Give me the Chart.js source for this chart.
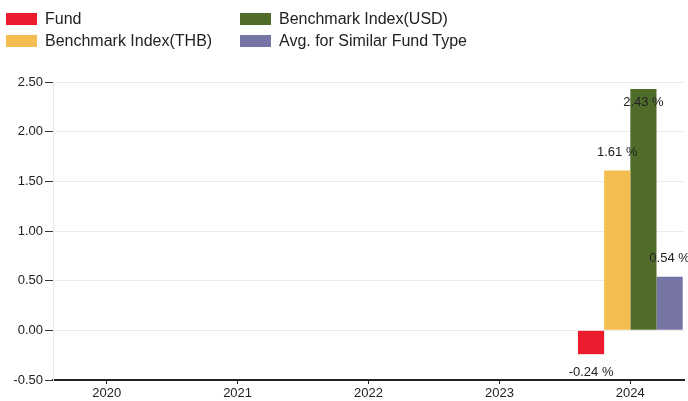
<!DOCTYPE html>
<html>
<head>
<meta charset="utf-8">
<script src="https://cdn.jsdelivr.net/npm/chart.js@4"></script>
<style>
    body { margin: 0; background: #fff; font-family: 'Liberation Sans', Arial, sans-serif; }
    #wrap { position: relative; width: 688px; height: 401px; overflow: hidden; }
    #legend { position: absolute; left: 6px; top: 8px; display: grid; grid-template-rows: 22px 22px;
              grid-auto-flow: column; grid-template-columns: 234px 240px; font-size: 16px; color: #222; }
    .item { display: flex; align-items: center; }
    .box { width: 31px; height: 12px; margin-right: 8px; }
</style>
</head>
<body>
<div id="wrap">
    <canvas id="perfChart" width="688" height="401"></canvas>
    <div id="legend"></div>
</div>
<script>
const years = ['2020', '2021', '2022', '2023', '2024'];
const fund = [null, null, null, null, -0.24];
const benchTHB = [null, null, null, null, 1.61];
const benchUSD = [null, null, null, null, 2.43];
const avgSimilar = [null, null, null, null, 0.54];
const yTicks = [-0.5, 0, 0.5, 1, 1.5, 2, 2.5];

const seriesNames = ['Fund', 'Benchmark Index(THB)', 'Benchmark Index(USD)', 'Avg. for Similar Fund Type'];
const seriesColors = ['#ec1c2e', '#f3be4f', '#4f6c2b', '#7574a5'];
const seriesValues = [fund, benchTHB, benchUSD, avgSimilar];

// legend, two columns like the original
const legend = document.getElementById('legend');
seriesNames.forEach((name, i) => {
    const item = document.createElement('div');
    item.className = 'item';
    item.innerHTML = `<span class="box" style="background:${seriesColors[i]}"></span><span>${name}</span>`;
    legend.appendChild(item);
});

// value labels above / below each bar
const valueLabels = {
    id: 'valueLabels',
    afterDatasetsDraw(chart) {
        const ctx = chart.ctx;
        const area = chart.chartArea;
        ctx.save();
        ctx.font = '13px "Liberation Sans", Arial, sans-serif';
        ctx.fillStyle = '#222';
        ctx.textAlign = 'center';
        ctx.textBaseline = 'middle';
        chart.data.datasets.forEach((ds, di) => {
            const meta = chart.getDatasetMeta(di);
            meta.data.forEach((bar, i) => {
                const v = ds.data[i].y;
                if (v === null) return;
                let y;
                if (v >= 0) {
                    y = Math.max(bar.y - 18, area.top + 20);
                } else {
                    y = bar.y + 18;
                }
                ctx.fillText(v.toFixed(2) + ' %', bar.x, y);
            });
        });
        ctx.restore();
    }
};

const datasets = seriesNames.map((name, i) => ({
    label: name,
    data: seriesValues[i].map((v, j) => ({ x: j, y: v })),
    backgroundColor: seriesColors[i],
    categoryPercentage: 0.8,
    barPercentage: 1.0,
}));

Chart.defaults.font.family = '"Liberation Sans", Arial, sans-serif';
Chart.defaults.font.size = 13;
Chart.defaults.color = '#222';

new Chart(document.getElementById('perfChart'), {
    type: 'bar',
    data: { datasets: datasets },
    plugins: [valueLabels],
    options: {
        responsive: false,
        animation: false,
        layout: { padding: { top: 82, right: 4, left: 0, bottom: 0 } },
        plugins: { legend: { display: false }, tooltip: { enabled: false } },
        scales: {
            x: {
                type: 'linear',
                offset: false,
                min: -0.41,
                max: 4.41,
                afterBuildTicks: scale => { scale.ticks = years.map((y, i) => ({ value: i })); },
                afterFit: scale => { scale.height = 21; },
                ticks: { callback: v => years[v], padding: 2, maxRotation: 0, autoSkip: false },
                grid: { offset: false, drawOnChartArea: false, tickLength: 4, tickColor: '#222' },
                border: { color: '#222', width: 2 },
            },
            y: {
                min: -0.5,
                max: 2.5,
                afterBuildTicks: scale => { scale.ticks = yTicks.map(v => ({ value: v })); },
                afterFit: scale => { scale.width = 53; },
                ticks: { callback: v => v.toFixed(2), padding: 2 },
                grid: { color: '#ececec', tickLength: 8, tickColor: '#333' },
                border: { color: '#e6e6e6' },
            }
        }
    }
});
</script>
</body>
</html>
